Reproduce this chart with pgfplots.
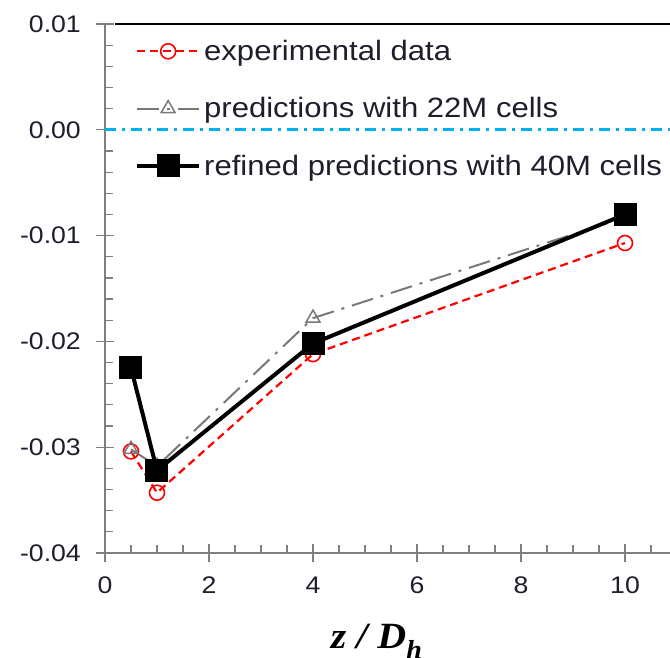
\documentclass[border=0pt]{standalone}
\usepackage{pgfplots}
\pgfplotsset{compat=1.18}
\usepackage{fontspec}
\setmainfont{Liberation Sans}
\newfontfamily\ticksf[FakeStretch=1.11]{Liberation Sans}
\newfontfamily\labsf[FakeStretch=1.08]{Liberation Serif}

\definecolor{txt}{RGB}{30,30,45}
\definecolor{axgray}{RGB}{128,128,128}
\definecolor{expred}{RGB}{255,0,0}
\definecolor{predgray}{RGB}{120,120,120}
\definecolor{zerocyan}{RGB}{0,176,240}

\begin{document}
\begin{tikzpicture}
\useasboundingbox (-105bp,-105bp) rectangle (565bp,553bp);
\clip (-105bp,-105bp) rectangle (565bp,553bp);
\begin{axis}[
  at={(0,0)}, anchor=south west,
  scale only axis,
  width=624bp, height=529bp,
  xmin=0, xmax=12, ymin=-0.04, ymax=0.01,
  axis lines=left,
  axis line style={axgray, line width=1.2bp, -},
  xtick={0,2,4,6,8,10,12},
  xticklabels={0,2,4,6,8,10,{}},
  ytick={-0.04,-0.03,-0.02,-0.01,0,0.01},
  yticklabels={-0.04,-0.03,-0.02,-0.01,0.00,0.01},
  scaled y ticks=false,
  minor x tick num=3,
  minor y tick num=4,
  tick align=inside,
  major tick length=18bp,
  minor tick length=8bp,
  every major x tick/.append style={yshift=-9bp},
  every major y tick/.append style={xshift=-9bp},
  tick style={axgray, line width=1.2bp},
  ticklabel style={font=\ticksf\fontsize{24bp}{28bp}\selectfont, text=txt, inner sep=0pt},
  xticklabel style={anchor=north, yshift=-24bp},
  yticklabel style={anchor=east, xshift=-24bp},
  xlabel={\labsf\bfseries\itshape z / D\raisebox{-0.28em}{\fontsize{26bp}{28bp}\selectfont h}},
  xlabel style={at={(rel axis cs:0.435,0)}, anchor=base, yshift=-95bp,
                font=\fontsize{37bp}{40bp}\selectfont, text=black},
  legend cell align=left,
  legend style={draw=none, fill=none, at={(0.048,0.975)}, anchor=north west,
                font=\ticksf\fontsize{28bp}{32bp}\selectfont, text=txt,
                inner sep=0pt, row sep=29.5bp,
                nodes={inner sep=3bp}},
  legend image code/.code={%
    \draw[mark repeat=2, mark phase=2, #1]
      plot coordinates {(0bp,0bp) (31bp,0bp) (62bp,0bp)};},
  clip=false,
]
% zero reference line
\addplot[zerocyan, line width=2.8bp, dash pattern=on 11bp off 6bp on 3bp off 6bp, forget plot]
  coordinates {(0,0) (12,0)};

% measured values
\addplot[expred, line width=2.2bp, dash pattern=on 8bp off 5bp,
         mark=o, mark size=7.5bp, mark options={solid, line width=1.6bp, fill=none}]
  coordinates {(0.5,-0.0304) (1,-0.0343) (4,-0.0212) (10,-0.0107)};
\addlegendentry{experimental data}

% 22M-cell mesh
\addplot[predgray, line width=2bp, dash pattern=on 22bp off 8bp on 3bp off 8bp,
         mark=triangle, mark size=8bp, mark options={solid, line width=1.5bp, fill=white}]
  coordinates {(0.5,-0.0302) (1,-0.0318) (4,-0.0178) (10,-0.0083)};
\addlegendentry{predictions with 22M cells}

% 40M-cell mesh
\addplot[black, line width=4bp, mark=square*, mark size=9.5bp, mark options={solid}]
  coordinates {(0.5,-0.0225) (1,-0.0322) (4,-0.0202) (10,-0.0080)};
\addlegendentry{refined predictions with 40M cells}

% upper frame
\draw[black, line width=1.2bp] (rel axis cs:0.016,1) -- (rel axis cs:1,1);
\end{axis}
\end{tikzpicture}
\end{document}
